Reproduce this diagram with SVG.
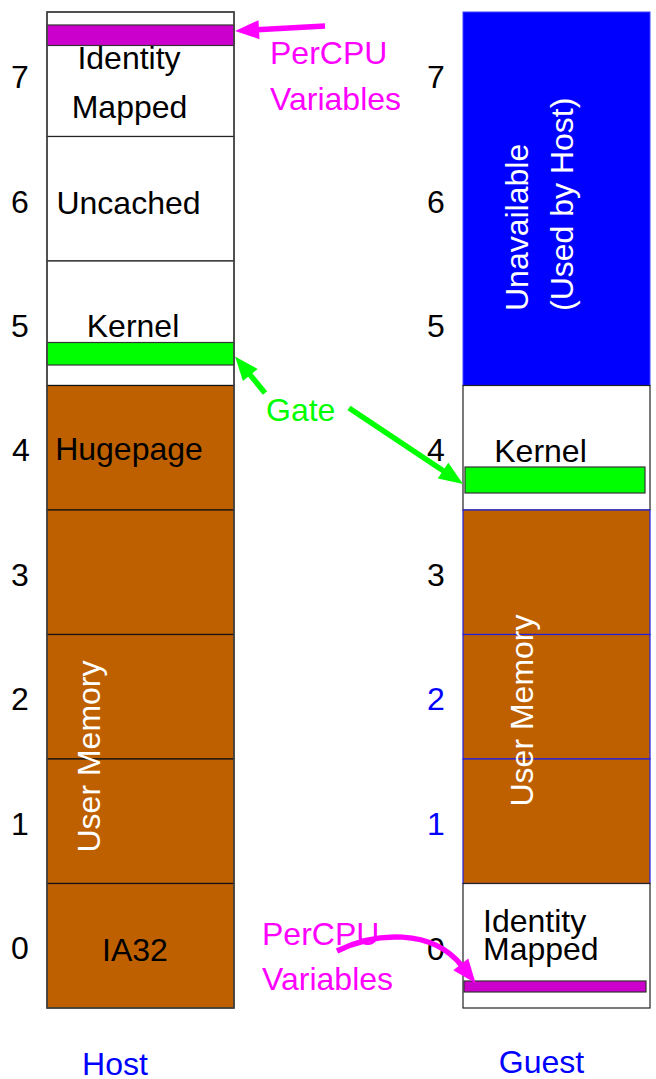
<svg xmlns="http://www.w3.org/2000/svg" width="656" height="1079" viewBox="0 0 656 1079">
  <style>
    text { font-family: "Liberation Sans", Arial, Helvetica, sans-serif; font-size: 32px; }
    .lbl { fill: #000000; }
    .mid { text-anchor: middle; }
    .inv { fill: #FFFFFF; }
    .pink { fill: #FF00FF; }
    .blue { fill: #0000FF; }
    .gate { fill: #00FF00; }
    .seg-white { fill: #FFFFFF; stroke: #222222; stroke-width: 1.2; }
    .seg-brown { fill: #BF6000; stroke: #111111; stroke-width: 1.2; }
    .seg-guest-brown { fill: #BF6000; stroke: #2020E0; stroke-width: 1.2; }
    .seg-blue { fill: #0000FF; stroke: #4040FF; stroke-width: 1; }
    .bar-pcpu { fill: #CC00CC; stroke: #333333; stroke-width: 1.2; }
    .bar-gate { fill: #00FF00; stroke: #333333; stroke-width: 1.2; }
    .frame { fill: none; stroke: #444444; stroke-width: 1.5; }
    .arrow-pink { fill: none; stroke: #FF00FF; stroke-width: 5.5; }
    .arrow-green { fill: none; stroke: #00FF00; stroke-width: 5.5; }
  </style>
  <defs>
    <marker id="head-pink" viewBox="-3 -10 27 20" markerWidth="27" markerHeight="20" refX="0" refY="0" orient="auto" markerUnits="userSpaceOnUse">
      <path d="M-2,-9.5 L22,0 L-2,9.5 Z" fill="#FF00FF"/>
    </marker>
    <marker id="head-green" viewBox="-3 -10 27 20" markerWidth="27" markerHeight="20" refX="0" refY="0" orient="auto" markerUnits="userSpaceOnUse">
      <path d="M-2,-9.5 L22,0 L-2,9.5 Z" fill="#00FF00"/>
    </marker>
  </defs>

  <!-- Host address space -->
  <g id="host">
    <g id="host-identity">
      <rect class="seg-white" x="47" y="12" width="187" height="124.5"/>
      <rect class="bar-pcpu" x="47" y="25" width="187" height="20.5"/>
      <text class="lbl mid" x="129" y="68.5">Identity</text>
      <text class="lbl mid" x="129.5" y="117.5">Mapped</text>
    </g>
    <g id="host-uncached">
      <rect class="seg-white" x="47" y="136.5" width="187" height="124.5"/>
      <text class="lbl mid" x="128.5" y="214">Uncached</text>
    </g>
    <g id="host-kernel">
      <rect class="seg-white" x="47" y="261" width="187" height="124.5"/>
      <text class="lbl mid" x="133" y="337">Kernel</text>
      <rect class="bar-gate" x="47" y="342.5" width="187" height="22.5"/>
    </g>
    <g id="host-hugepage">
      <rect class="seg-brown" x="47" y="385.5" width="187" height="124.5"/>
      <text class="lbl mid" x="129" y="459.5">Hugepage</text>
    </g>
    <g id="host-user">
      <rect class="seg-brown" x="47" y="510" width="187" height="124.5"/>
      <rect class="seg-brown" x="47" y="634.5" width="187" height="124.5"/>
      <rect class="seg-brown" x="47" y="759" width="187" height="124.5"/>
      <text class="inv mid" transform="translate(100,756.5) rotate(-90)">User Memory</text>
    </g>
    <g id="host-ia32">
      <rect class="seg-brown" x="47" y="883.5" width="187" height="124.5"/>
      <text class="lbl mid" x="135" y="961">IA32</text>
    </g>
    <rect class="frame" x="47" y="12" width="187" height="996"/>
  </g>

  <!-- Guest address space -->
  <g id="guest">
    <g id="guest-unavailable">
      <rect class="seg-blue" x="463" y="12" width="187" height="373.5"/>
      <text class="inv" transform="translate(528,311) rotate(-90)">Unavailable</text>
      <text class="inv" transform="translate(573,311) rotate(-90)">(Used by Host)</text>
    </g>
    <g id="guest-kernel">
      <rect class="seg-white" x="463" y="385.5" width="187" height="124.5"/>
      <text class="lbl mid" x="540.5" y="461.5">Kernel</text>
      <rect class="bar-gate" x="465" y="467" width="180" height="26"/>
    </g>
    <g id="guest-user">
      <rect class="seg-guest-brown" x="463" y="510" width="187" height="124.5"/>
      <rect class="seg-guest-brown" x="463" y="634.5" width="187" height="124.5"/>
      <rect class="seg-guest-brown" x="463" y="759" width="187" height="124.5"/>
      <text class="inv mid" transform="translate(533,710.5) rotate(-90)">User Memory</text>
    </g>
    <g id="guest-identity">
      <rect class="seg-white" x="463" y="883.5" width="187" height="124.5"/>
      <text class="lbl" x="483" y="931.5">Identity</text>
      <text class="lbl" x="483" y="960">Mapped</text>
      <rect class="bar-pcpu" x="464" y="981" width="182" height="11"/>
    </g>
  </g>

  <!-- Gigabyte index, host side -->
  <g id="host-scale" class="lbl">
    <text class="mid" x="20" y="87.5">7</text>
    <text class="mid" x="20" y="212.5">6</text>
    <text class="mid" x="20" y="336.5">5</text>
    <text class="mid" x="21" y="461">4</text>
    <text class="mid" x="20" y="585.5">3</text>
    <text class="mid" x="20" y="710">2</text>
    <text class="mid" x="20" y="834.5">1</text>
    <text class="mid" x="20" y="959">0</text>
  </g>

  <!-- Gigabyte index, guest side -->
  <g id="guest-scale">
    <text class="lbl mid" x="436" y="87.5">7</text>
    <text class="lbl mid" x="436" y="212.5">6</text>
    <text class="lbl mid" x="436" y="336.5">5</text>
    <text class="lbl mid" x="436" y="461">4</text>
    <text class="lbl mid" x="436" y="585.5">3</text>
    <text class="blue mid" x="436" y="710">2</text>
    <text class="blue mid" x="436" y="834.5">1</text>
    <text class="lbl mid" x="436" y="960">0</text>
  </g>

  <!-- Callout labels -->
  <g id="percpu-host-label" class="pink">
    <text x="270" y="64">PerCPU</text>
    <text x="270" y="110">Variables</text>
  </g>
  <g id="gate-label">
    <text class="gate" x="266" y="421">Gate</text>
  </g>
  <g id="percpu-guest-label" class="pink">
    <text x="262" y="945">PerCPU</text>
    <text x="262" y="990">Variables</text>
  </g>

  <!-- Column captions -->
  <g id="captions" class="blue">
    <text class="mid" x="115" y="1075">Host</text>
    <text class="mid" x="541.5" y="1073">Guest</text>
  </g>

  <!-- Connectors -->
  <g id="connectors">
    <path class="arrow-pink" d="M325,26 L257,29.8" marker-end="url(#head-pink)"/>
    <path class="arrow-green" d="M265,393 L249,373.5" marker-end="url(#head-green)"/>
    <path class="arrow-green" d="M349,408 L444.7,471.8" marker-end="url(#head-green)"/>
    <path class="arrow-pink" d="M337,951 C375,932 432,928 462,966" marker-end="url(#head-pink)"/>
  </g>
</svg>
